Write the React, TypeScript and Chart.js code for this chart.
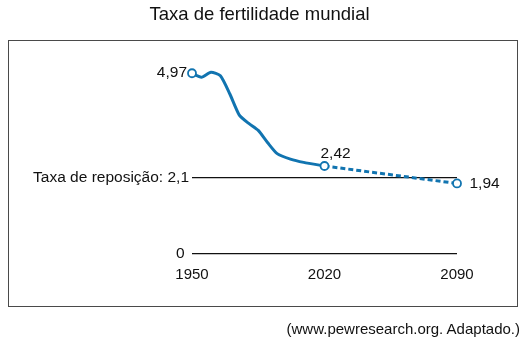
import React, { useEffect, useRef } from 'react';
import { Chart, registerables } from 'chart.js';

Chart.register(...registerables);

const titleText = 'Taxa de fertilidade mundial';
const sourceText = '(www.pewresearch.org. Adaptado.)';

const historyYears = [1950, 1955, 1960, 1965, 1970, 1975, 1980, 1985, 1990, 1995, 2002, 2009, 2020];
const historyRates = [4.97, 4.86, 5.0, 4.9, 4.4, 3.82, 3.59, 3.4, 3.06, 2.76, 2.61, 2.52, 2.42];
const projectionYears = [2020, 2090];
const projectionRates = [2.42, 1.94];
const markerYears = [1950, 2020, 2090];
const markerRates = [4.97, 2.42, 1.94];
const markerLabels = ['4,97', '2,42', '1,94'];
const xTickYears = [1950, 2020, 2090];
const yTickValues = [0, 2.1];
const yTickLabels = ['0 ', 'Taxa de reposição: 2,1'];

const FONT = '"Liberation Sans", Arial, Helvetica, sans-serif';
const BLUE = '#1174b0';

const labelStyle = [
  { align: 'right' as CanvasTextAlign, dx: -5, dy: 4 },
  { align: 'left' as CanvasTextAlign, dx: -4, dy: -8.5 },
  { align: 'left' as CanvasTextAlign, dx: 12.5, dy: 5 },
];

const pointLabelPlugin = {
  id: 'pointLabels',
  afterDatasetsDraw(chart: any) {
    const ctx = chart.ctx;
    const xs = chart.scales.x;
    const ys = chart.scales.y;
    ctx.save();
    ctx.font = `15.5px ${FONT}`;
    ctx.fillStyle = '#111';
    ctx.textBaseline = 'alphabetic';
    markerLabels.forEach((lab, i) => {
      const st = labelStyle[i];
      const px = xs.getPixelForValue(markerYears[i]);
      const py = ys.getPixelForValue(markerRates[i]);
      ctx.textAlign = st.align;
      ctx.fillText(lab, px + st.dx, py + st.dy);
    });
    ctx.restore();
  },
};

export default function App() {
  const ref = useRef<HTMLCanvasElement | null>(null);

  useEffect(() => {
    if (!ref.current) return;
    const chart = new Chart(ref.current, {
      type: 'line',
      data: {
        datasets: [
          {
            label: 'markers',
            data: markerYears.map((x, i) => ({ x, y: markerRates[i] })),
            showLine: false,
            pointRadius: 4,
            pointBorderWidth: 1.8,
            pointBackgroundColor: '#ffffff',
            pointBorderColor: BLUE,
            borderColor: BLUE,
            clip: false as any,
          },
          {
            label: 'history',
            data: historyYears.map((x, i) => ({ x, y: historyRates[i] })),
            borderColor: BLUE,
            borderWidth: 3,
            pointRadius: 0,
            tension: 0.2,
            borderCapStyle: 'round',
            borderJoinStyle: 'round',
            clip: false as any,
          },
          {
            label: 'projection',
            data: projectionYears.map((x, i) => ({ x, y: projectionRates[i] })),
            borderColor: BLUE,
            borderWidth: 3,
            borderDash: [5, 3],
            pointRadius: 0,
            clip: false as any,
          },
        ],
      },
      options: {
        responsive: false,
        animation: false,
        events: [],
        layout: { padding: { top: 54, left: 0, right: 75, bottom: 0 } },
        plugins: {
          legend: { display: false },
          tooltip: { enabled: false },
          title: { display: false },
        },
        scales: {
          x: {
            type: 'linear',
            min: 1950,
            max: 2090,
            afterBuildTicks: (s: any) => {
              s.ticks = xTickYears.map((v) => ({ value: v }));
            },
            afterFit: (s: any) => {
              s.height = 93;
            },
            grid: { display: false, drawTicks: false },
            border: { display: false },
            ticks: {
              autoSkip: false,
              maxRotation: 0,
              padding: 12,
              color: '#111',
              font: { size: 15, family: FONT },
              callback: (v: any) => String(v),
            },
          },
          y: {
            type: 'linear',
            min: 0,
            max: 5.5,
            afterBuildTicks: (s: any) => {
              s.ticks = yTickValues.map((v) => ({ value: v }));
            },
            afterFit: (s: any) => {
              s.width = 192;
            },
            grid: { display: true, drawTicks: false, color: '#111', lineWidth: 1.2 },
            border: { display: false },
            ticks: {
              padding: 3,
              color: '#111',
              font: { size: 15.5, family: FONT },
              callback: (v: any) => {
                const i = yTickValues.indexOf(Number(v));
                return i >= 0 ? yTickLabels[i] : '';
              },
            },
          },
        },
      } as any,
      plugins: [pointLabelPlugin],
    });
    return () => chart.destroy();
  }, []);

  return (
    <div style={{ position: 'fixed', left: 0, top: 0, width: 532, height: 347, background: '#fff', fontFamily: FONT }}>
      <canvas ref={ref} width={532} height={347} style={{ position: 'absolute', left: 0, top: 0 }} />
      <div
        style={{
          position: 'absolute',
          left: 0,
          top: 4,
          width: 519,
          textAlign: 'center',
          fontSize: 18.5,
          lineHeight: '20px',
          color: '#111',
          whiteSpace: 'nowrap',
        }}
      >
        {titleText}
      </div>
      <div
        style={{
          position: 'absolute',
          left: 8,
          top: 40,
          width: 510,
          height: 267,
          boxSizing: 'border-box',
          border: '1.5px solid #4a4a4a',
          pointerEvents: 'none',
        }}
      />
      <div
        style={{
          position: 'absolute',
          right: 12,
          top: 320,
          fontSize: 15,
          lineHeight: '17px',
          color: '#111',
          whiteSpace: 'nowrap',
        }}
      >
        {sourceText}
      </div>
    </div>
  );
}
